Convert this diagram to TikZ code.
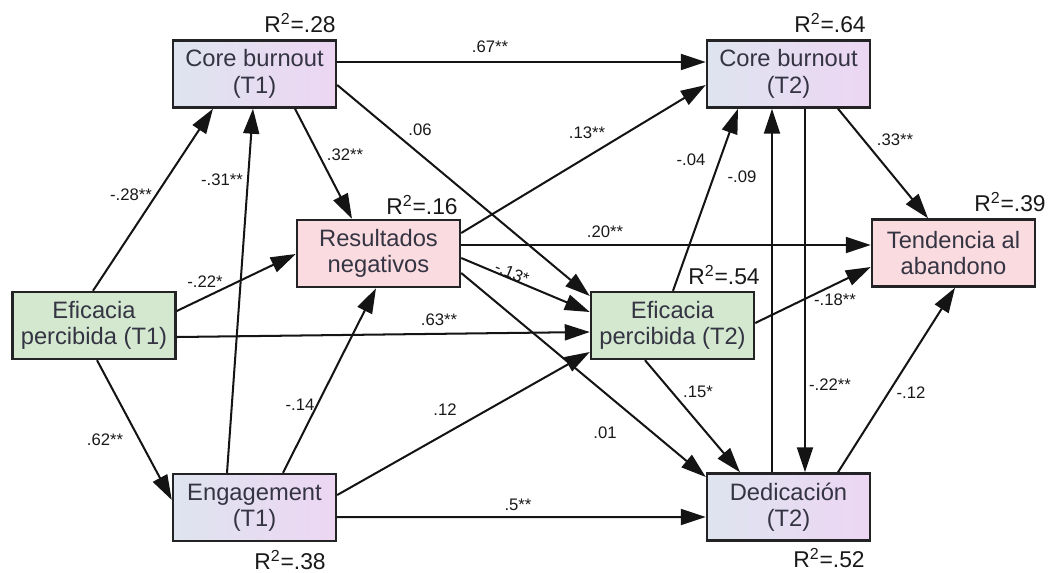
\documentclass[tikz,border=0pt]{standalone}
\usepackage{fontspec}
\setmainfont{Liberation Sans}
\usetikzlibrary{arrows.meta,calc}

\definecolor{boxline}{RGB}{35,35,38}
\definecolor{boxtext}{RGB}{52,52,66}
\definecolor{labeltext}{RGB}{25,25,25}
\definecolor{linecol}{RGB}{20,20,20}
\definecolor{lavleft}{RGB}{222,228,240}
\definecolor{lavright}{RGB}{237,214,242}
\definecolor{pinkfill}{RGB}{250,219,223}
\definecolor{greenfill}{RGB}{212,232,208}

\begin{document}
\begin{tikzpicture}[x=0.02cm,y=-0.02cm,
  box/.style={draw=boxline, line width=1.4pt, minimum width=3.26cm,
    minimum height=1.34cm, inner sep=1pt, align=center,
    font=\fontsize{13.5}{15}\selectfont, text=boxtext},
  burnbox/.style={box, left color=lavleft, right color=lavright},
  pinkbox/.style={box, fill=pinkfill},
  greenbox/.style={box, fill=greenfill},
  link/.style={draw=linecol, line width=1.15pt,
    -{Triangle[length=0.5cm,width=0.32cm]}},
  coef/.style={font=\fontsize{9.5}{11}\selectfont, text=labeltext, inner sep=1pt},
  rsq/.style={font=\fontsize{13}{15}\selectfont, text=labeltext, inner sep=0pt}
]
\useasboundingbox (0,0) rectangle (1051,572);

% variables
\node[burnbox]  (cbt1) at (254.5,74)   {Core burnout\\(T1)};
\node[pinkbox]  (res)  at (378.5,253.5) {Resultados\\negativos};
\node[greenbox] (eft1) at (94,325.5)   {Eficacia\\percibida (T1)};
\node[greenbox] (eft2) at (672.5,325.5) {Eficacia\\percibida (T2)};
\node[burnbox]  (cbt2) at (788.5,74)   {Core burnout\\(T2)};
\node[pinkbox]  (tend) at (953.5,253)  {Tendencia al\\abandono};
\node[burnbox]  (ded)  at (788.5,507)  {Dedicación\\(T2)};
\node[burnbox]  (eng)  at (254.5,507.5) {Engagement\\(T1)};

% explained variance
\node[rsq] (r1) at (300,23)  {R\textsuperscript{2}=.28};
\node[rsq] (r2) at (830,23)  {R\textsuperscript{2}=.64};
\node[rsq] (r3) at (422,205) {R\textsuperscript{2}=.16};
\node[rsq] (r4) at (1010,202) {R\textsuperscript{2}=.39};
\node[rsq] (r5) at (724,275) {R\textsuperscript{2}=.54};
\node[rsq] (r6) at (290,560) {R\textsuperscript{2}=.38};
\node[rsq] (r7) at (829,558) {R\textsuperscript{2}=.52};

% paths
\draw[link] ($(eft1.north)+(-1,0)$)   -- ($(cbt1.south)+(-41.5,0)$);
\draw[link] ($(eng.north)+(-27.5,0)$) -- ($(cbt1.south)+(-1.5,0)$);
\draw[link] ($(cbt1.south)+(40.5,0)$) -- ($(res.north)+(-26.5,0)$);
\draw[link] ($(cbt1.east)+(0,-12)$)   -- ($(cbt2.west)+(0,-12)$);
\draw[link] ($(cbt1.east)+(0,11)$)    -- ($(eft2.west)+(0,-29.5)$);
\draw[link] ($(res.east)+(0,-20.5)$)  -- ($(cbt2.west)+(0,11)$);
\draw[link] ($(res.east)+(0,-8.5)$)   -- ($(tend.west)+(0,-8)$);
\draw[link] ($(res.east)+(0,4.5)$)    -- ($(eft2.west)+(0,-13.5)$);
\draw[link] ($(res.east)+(0,19.5)$)   -- ($(ded.west)+(0,-30)$);
\draw[link] ($(eft1.east)+(0,-14.5)$) -- ($(res.west)+(0,0.5)$);
\draw[link] ($(eft1.east)+(0,11.5)$)  -- ($(eft2.west)+(0,6.5)$);
\draw[link] ($(eft1.south)+(3,0)$)    -- ($(eng.west)+(0,-7.5)$);
\draw[link] ($(eng.north)+(28.5,0)$)  -- ($(res.south)+(-2.5,0)$);
\draw[link] ($(eng.east)+(0,-12.5)$)  -- ($(eft2.west)+(0,26.5)$);
\draw[link] ($(eng.east)+(0,9.5)$)    -- ($(ded.west)+(0,10)$);
\draw[link] ($(eft2.north)+(0.5,0)$)  -- ($(cbt2.south)+(-50.5,0)$);
\draw[link] ($(ded.north)+(-16.5,0)$) -- ($(cbt2.south)+(-16.5,0)$);
\draw[link] ($(cbt2.south)+(16.5,0)$) -- ($(ded.north)+(16.5,0)$);
\draw[link] ($(cbt2.south)+(49.5,0)$) -- ($(tend.north)+(-25.5,0)$);
\draw[link] ($(eft2.east)+(0,-2.5)$)  -- ($(tend.west)+(0,14)$);
\draw[link] ($(eft2.south)+(-27.5,0)$) -- ($(ded.north)+(-48.5,0)$);
\draw[link] ($(ded.north)+(49.5,0)$)  -- ($(tend.south)+(1.5,0)$);

% path coefficients
\node[coef] (c1)  at (131,195) {-.28**};
\node[coef] (c2)  at (222,180) {-.31**};
\node[coef] (c3)  at (345,155) {.32**};
\node[coef] (c4)  at (490,47)  {.67**};
\node[coef] (c5)  at (420,130) {.06};
\node[coef] (c6)  at (587,133) {.13**};
\node[coef] (c7)  at (605,232) {.20**};
\node[coef,rotate=-22] (c8) at (512,273) {-.13*};
\node[coef] (c9)  at (605,433) {.01};
\node[coef] (c10) at (205,282) {-.22*};
\node[coef] (c11) at (439,320) {.63**};
\node[coef] (c12) at (105,440) {.62**};
\node[coef] (c13) at (300,405) {-.14};
\node[coef] (c14) at (445,410) {.12};
\node[coef] (c15) at (518,505) {.5**};
\node[coef] (c16) at (691,160) {-.04};
\node[coef] (c17) at (742,177) {-.09};
\node[coef] (c18) at (830,385) {-.22**};
\node[coef] (c19) at (895,140) {.33**};
\node[coef] (c20) at (835,300) {-.18**};
\node[coef] (c21) at (698,392) {.15*};
\node[coef] (c22) at (911,393) {-.12};
\end{tikzpicture}
\end{document}
